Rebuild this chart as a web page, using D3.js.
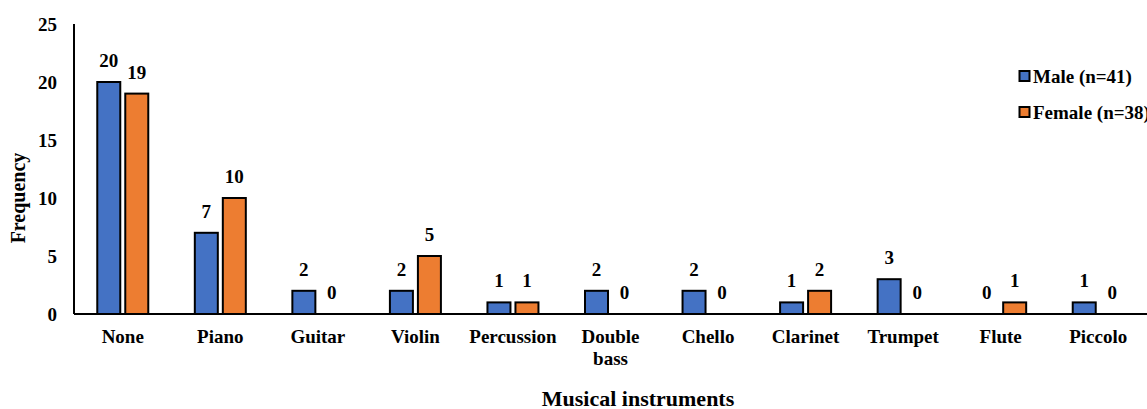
<!DOCTYPE html>
<html><head><meta charset="utf-8">
<script src="https://cdn.jsdelivr.net/npm/d3@7"></script>
<style>body{margin:0;background:#fff}svg{display:block}</style>
</head><body><svg id="c" width="1147" height="409" font-family="'Liberation Serif', 'Times New Roman', Times, 'DejaVu Serif', serif" font-weight="bold"></svg>
<script>
const categories = ["None","Piano","Guitar","Violin","Percussion","Double bass","Chello","Clarinet","Trumpet","Flute","Piccolo"];
const male = [20,7,2,2,1,2,2,1,3,0,1];
const female = [19,10,0,5,1,0,0,2,0,1,0];
const seriesNames = ["Male (n=41)","Female (n=38)"];
const colors = ["#4472C4","#ED7D31"];
const yTicks = [0,5,10,15,20,25];

const svg = d3.select("#c");
const mLeft = 74, mRight = 1147, mTop = 24, mBottom = 314;
const x = d3.scaleBand().domain(categories).range([mLeft, mRight]);
const y = d3.scaleLinear().domain([0,25]).range([mBottom, mTop]);
const bw = 23, off = 14;

svg.append("line").attr("x1",mLeft).attr("x2",mLeft).attr("y1",mTop).attr("y2",mBottom).attr("stroke","#000").attr("stroke-width",2);

svg.selectAll(".yt").data(yTicks).enter().append("text")
  .attr("x",57).attr("y",d=>y(d)).attr("dy","0.35em").attr("text-anchor","end")
  .attr("font-size",19).text(d=>d);

const series = [male, female];
series.forEach((vals, si) => {
  const cx = c => x(c) + x.bandwidth()/2 + (si===0 ? -off : off);
  svg.selectAll(".b"+si).data(categories).enter().filter((c,i)=>vals[i]>0).append("rect")
    .attr("x", c => cx(c) - bw/2)
    .attr("y", c => y(vals[categories.indexOf(c)]))
    .attr("width", bw)
    .attr("height", c => mBottom - y(vals[categories.indexOf(c)]))
    .attr("fill", colors[si]).attr("stroke","#000").attr("stroke-width",2);
  svg.selectAll(".l"+si).data(categories).enter().append("text")
    .attr("x", c => cx(c))
    .attr("y", (c,i) => y(vals[i]) - 15)
    .attr("text-anchor","middle").attr("font-size",19)
    .text((c,i)=>vals[i]);
});

svg.append("line").attr("x1",mLeft).attr("x2",mRight).attr("y1",mBottom).attr("y2",mBottom).attr("stroke","#000").attr("stroke-width",2);

categories.forEach(c => {
  const words = c === "Double bass" ? ["Double","bass"] : [c];
  const t = svg.append("text").attr("x", x(c)+x.bandwidth()/2).attr("y",343)
    .attr("text-anchor","middle").attr("font-size",19);
  words.forEach((w,i)=>t.append("tspan").attr("x", x(c)+x.bandwidth()/2).attr("dy", i===0?0:22).text(w));
});

svg.append("text").attr("x",638).attr("y",406).attr("text-anchor","middle").attr("font-size",22).text("Musical instruments");
svg.append("text").attr("transform","translate(25,198) rotate(-90)").attr("text-anchor","middle").attr("font-size",20).text("Frequency");

seriesNames.forEach((n,i)=>{
  const ly = 76 + i*36;
  svg.append("rect").attr("x",1019.5).attr("y",ly-5).attr("width",10).attr("height",10)
    .attr("fill",colors[i]).attr("stroke","#000").attr("stroke-width",2);
  svg.append("text").attr("x",1033).attr("y",ly).attr("dy","0.35em").attr("font-size",19).text(n);
});
</script></body></html>
